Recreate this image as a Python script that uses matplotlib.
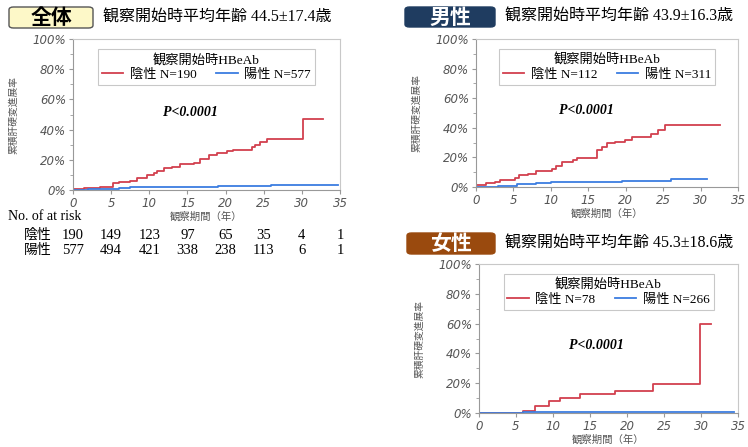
import matplotlib
matplotlib.use("Agg")
import matplotlib.pyplot as plt
from matplotlib.patches import FancyBboxPatch
from matplotlib.ticker import FuncFormatter, MultipleLocator
import matplotlib.transforms as mtransforms

plt.rcParams['font.family'] = ['Noto Sans CJK JP', 'DejaVu Sans']

# --- data (years, cumulative %) ---
all_neg_t = [0, 1.4, 3.6, 5.3, 6, 7.5, 8.4, 9.7, 10.6, 11, 11.9, 13, 14, 15.8, 16.7, 17.8,
             18.9, 20.2, 21, 23.4, 23.9, 24.5, 25.4, 30.1, 32.8]
all_neg_v = [0.9, 1.5, 2.3, 4.8, 5.3, 6.2, 8.2, 10, 11, 12.5, 14.5, 15, 17, 18, 20.5, 23,
             24.5, 25.5, 26.8, 28.5, 30, 31.5, 33.5, 47, 47]
all_pos_t = [0, 2, 5, 6, 7.5, 9, 12, 19, 25.9, 34.7]
all_pos_v = [0.3, 0.5, 0.8, 1.3, 1.7, 2.0, 2.2, 2.6, 3.6, 3.6]

male_neg_t = [0, 1.4, 2.5, 3.2, 5.2, 5.8, 6.9, 8, 10.2, 10.7, 11.5, 12.9, 13.5, 16.2, 16.8,
              17.5, 18.6, 19.9, 20.8, 23.4, 24.3, 25.2, 32.6]
male_neg_v = [1.4, 2.5, 3.5, 4.5, 6, 7.8, 8.5, 10.5, 12, 14.5, 17, 18, 19.7, 25, 27,
              30, 30.5, 32, 33.5, 36, 38.5, 42, 42]
male_pos_t = [0, 3, 4.5, 5.5, 8, 10, 19.5, 26, 30.9]
male_pos_v = [0, 0.5, 1, 2, 2.8, 3.4, 3.8, 5.4, 5.4]

female_neg_t = [0, 1.3, 5.9, 7.6, 9.4, 10.9, 13.7, 18.4, 23.5, 29.8, 31.4]
female_neg_v = [0, 0.3, 1.3, 4.7, 8, 10, 12.5, 15, 19.5, 60, 60]
female_pos_t = [0, 1.3, 6, 34.5]
female_pos_v = [0, 0.3, 0.8, 0.8]

risk_years = [0, 5, 10, 15, 20, 25, 30, 35]
risk_neg = [190, 149, 123, 97, 65, 35, 4, 1]
risk_pos = [577, 494, 421, 338, 238, 113, 6, 1]

panels = [
    dict(key="全体", age="44.5±17.4", n_neg=190, n_pos=577,
         neg=(all_neg_t, all_neg_v), pos=(all_pos_t, all_pos_v), ptxt=(0.44, 0.51),
         rect=[73, 39, 340, 190], box=(9, 7, 93, 28), fill="#fdf8c8", fc="black", ec="#555555"),
    dict(key="男性", age="43.9±16.3", n_neg=112, n_pos=311,
         neg=(male_neg_t, male_neg_v), pos=(male_pos_t, male_pos_v), ptxt=(0.42, 0.515),
         rect=[476, 39, 738, 187], box=(405, 7, 495, 27), fill="#1f3c60", fc="white", ec="#1f3c60"),
    dict(key="女性", age="45.3±18.6", n_neg=78, n_pos=266,
         neg=(female_neg_t, female_neg_v), pos=(female_pos_t, female_pos_v), ptxt=(0.455, 0.456),
         rect=[479, 264, 738, 413], box=(407, 233, 495, 254), fill="#9a4a0e", fc="white", ec="#9a4a0e"),
]

W, H = 748, 447
fig = plt.figure(figsize=(W / 100, H / 100), dpi=100)

RED = "#d2404e"
BLUE = "#3c7de0"
MIX = ['Liberation Serif', 'Noto Sans CJK JP']

for p in panels:
    x0, y0, x1, y1 = p["rect"]
    ax = fig.add_axes([x0 / W, 1 - y1 / H, (x1 - x0) / W, (y1 - y0) / H])
    ax.step(p["neg"][0], p["neg"][1], where="post", color=RED, lw=1.3,
            label=f"陰性 N={p['n_neg']}")
    ax.step(p["pos"][0], p["pos"][1], where="post", color=BLUE, lw=1.3,
            label=f"陽性 N={p['n_pos']}")
    ax.set_xlim(0, 35)
    ax.set_ylim(0, 100)
    ax.xaxis.set_major_locator(MultipleLocator(5))
    ax.yaxis.set_major_locator(MultipleLocator(20))
    ax.yaxis.set_minor_locator(MultipleLocator(10))
    ax.yaxis.set_major_formatter(FuncFormatter(lambda v, _: f"{int(v)}%"))
    for lab in ax.get_xticklabels() + ax.get_yticklabels():
        lab.set_family('DejaVu Sans')
        lab.set_style('italic')
        lab.set_color('#555555')
        lab.set_fontsize(8.5)
    ax.tick_params(axis='both', length=3, color='#999999', pad=2)
    ax.tick_params(axis='y', which='minor', length=2, color='#999999')
    for s in ax.spines.values():
        s.set_color('#c8c8c8')
        s.set_linewidth(0.8)
    ax.spines['left'].set_color('#999999')
    ax.spines['bottom'].set_color('#999999')
    ax.set_xlabel("観察期間（年）", fontsize=7.5, color='#555555', labelpad=1)
    ax.set_ylabel("累積肝硬変進展率", fontsize=7, color='#555555', labelpad=10)

    leg = ax.legend(loc="upper center", bbox_to_anchor=(0.5, 0.975), ncol=2,
                    title="観察開始時HBeAb", fancybox=False, edgecolor='#bbbbbb',
                    handlelength=1.6, columnspacing=1.5, borderpad=0.3,
                    labelspacing=0.2, handletextpad=0.5,
                    prop=dict(family=MIX, size=9.5))
    leg.get_title().set_family(MIX)
    leg.get_title().set_fontsize(9.5)
    leg.get_frame().set_linewidth(0.8)

    ax.text(p["ptxt"][0], p["ptxt"][1], "P<0.0001", transform=ax.transAxes,
            ha='center', va='center', family='Liberation Serif', weight='bold',
            style='italic', fontsize=10)

    bx0, by0, bx1, by1 = p["box"]
    patch = FancyBboxPatch((bx0 / W, 1 - by1 / H), (bx1 - bx0) / W, (by1 - by0) / H,
                           boxstyle="round,pad=0,rounding_size=0.006",
                           transform=fig.transFigure, facecolor=p["fill"],
                           edgecolor=p["ec"], lw=1)
    fig.add_artist(patch)
    fig.text((bx0 + bx1) / 2 / W, 1 - (by0 + by1) / 2 / H, p["key"], ha='center',
             va='center', fontsize=15, weight='bold', color=p["fc"])
    fig.text((bx1 + 10) / W, 1 - (by0 + by1) / 2 / H,
             f"観察開始時平均年齢 {p['age']}歳", ha='left', va='center',
             fontsize=11.5, family=MIX)

    if p["key"] == "全体":
        trans = mtransforms.blended_transform_factory(ax.transData, fig.transFigure)
        fig.text(8 / W, 1 - 216 / H, "No. of at risk", family=MIX, fontsize=10,
                 ha='left', va='center')
        for row_y, name, vals in [(235, "陰性", risk_neg), (250, "陽性", risk_pos)]:
            fig.text(24 / W, 1 - row_y / H, name, fontsize=10, ha='left', va='center')
            for yr, v in zip(risk_years, vals):
                ax.text(yr, 1 - row_y / H, str(v), transform=trans, ha='center',
                        va='center', family=MIX, fontsize=10.5, clip_on=False)

fig.savefig("out.png", dpi=100)
